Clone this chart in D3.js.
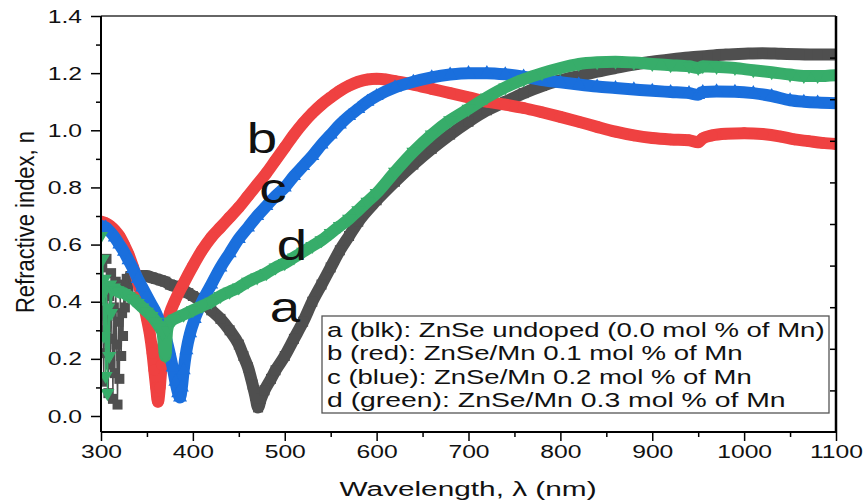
<!DOCTYPE html>
<html>
<head>
<meta charset="utf-8">
<script src="https://cdn.jsdelivr.net/npm/d3@7"></script>
<style>
  body { margin: 0; background: #fff; }
  svg { display: block; font-family: "Liberation Sans", Arial, sans-serif; }
</style>
</head>
<body>
<div id="chart"></div>
<script>
// refractive index n vs wavelength (nm)
const aWl = [300,301,302,303,304,305,306,307,308,309,310,311,312,313,314,315,316,317,318,319,320,321,322,323,324,325,326,328,330,332,
  335,340,345,350,355,360,365,370,375,380,385,390,395,400,410,420,430,440,450,455,460,465,468,471,474,478,485,490,500,510,520,530,540,550,560,570,580,
  600,620,640,660,680,700,720,740,760,780,800,820,840,860,880,900,920,940,960,980,1000,1020,1040,1060,1080,1100];
const aN = [0.40,0.52,0.30,0.12,0.45,0.22,0.55,0.35,0.08,0.42,0.18,0.50,0.27,0.06,0.38,0.15,0.47,0.25,0.04,0.33,0.13,0.44,0.21,0.36,0.28,0.46,0.38,0.48,0.45,0.49,
  0.48,0.49,0.49,0.49,0.485,0.48,0.475,0.47,0.46,0.455,0.45,0.44,0.43,0.42,0.40,0.37,0.34,0.30,0.25,0.21,0.17,0.11,0.07,0.03,0.06,0.09,0.13,0.16,0.21,0.27,0.33,0.40,0.46,0.52,0.58,0.63,0.68,
  0.755,0.82,0.88,0.935,0.985,1.03,1.07,1.10,1.13,1.155,1.175,1.19,1.205,1.218,1.23,1.24,1.248,1.255,1.26,1.265,1.268,1.27,1.268,1.266,1.265,1.265];

const bWl = [300,305,310,315,320,325,330,335,340,345,350,353,356,358,360,362,364,366,368,371,375,380,390,400,410,420,430,440,450,460,470,480,490,500,
  510,520,530,540,550,560,570,580,590,600,610,620,640,660,680,700,720,740,760,780,800,820,840,860,880,900,920,940,950,955,965,980,1000,1020,1040,1055,1070,1085,1100];
const bN = [0.68,0.675,0.665,0.65,0.63,0.60,0.565,0.52,0.47,0.41,0.34,0.29,0.22,0.16,0.10,0.05,0.10,0.18,0.25,0.31,0.36,0.40,0.465,0.525,0.58,0.625,0.66,0.695,0.73,0.77,0.81,0.85,0.895,0.94,
  0.985,1.025,1.06,1.09,1.115,1.138,1.156,1.17,1.178,1.18,1.178,1.172,1.16,1.145,1.13,1.115,1.10,1.09,1.078,1.063,1.047,1.03,1.012,0.995,0.982,0.973,0.968,0.965,0.958,0.972,0.982,0.988,0.99,0.987,0.978,0.968,0.962,0.956,0.952];

const cWl = [300,305,310,315,320,325,330,335,340,345,350,355,360,365,370,374,378,381,384,386,388,390,393,397,402,410,420,430,440,450,460,470,480,490,500,
  510,520,530,540,550,560,570,580,590,600,620,640,660,680,700,720,740,760,780,800,820,840,860,880,900,920,940,950,955,970,990,1010,1030,1050,1065,1080,1100];
const cN = [0.665,0.66,0.645,0.625,0.60,0.575,0.545,0.515,0.48,0.45,0.42,0.39,0.36,0.32,0.28,0.23,0.17,0.12,0.08,0.065,0.10,0.16,0.23,0.29,0.34,0.40,0.46,0.52,0.57,0.62,0.66,0.70,0.735,0.77,0.80,
  0.84,0.875,0.91,0.95,0.985,1.02,1.05,1.075,1.10,1.12,1.15,1.17,1.185,1.195,1.20,1.20,1.196,1.188,1.176,1.168,1.16,1.153,1.148,1.143,1.138,1.134,1.13,1.124,1.134,1.136,1.135,1.13,1.12,1.105,1.10,1.097,1.095];

const dWl = [300,301,302,303,304,305,306,307,308,309,310,311,312,314,316,
  318,320,325,330,335,340,345,350,355,360,364,367,370,372,375,380,390,400,410,420,430,440,450,460,470,480,490,500,510,520,530,540,550,560,570,580,590,
  600,620,640,660,680,700,720,740,760,780,800,820,840,860,880,900,920,940,950,955,970,990,1010,1030,1050,1065,1080,1100];
const dN = [0.63,0.42,0.55,0.28,0.48,0.14,0.45,0.08,0.38,0.21,0.46,0.36,0.44,0.45,0.44,
  0.44,0.435,0.43,0.42,0.41,0.395,0.38,0.365,0.35,0.33,0.31,0.29,0.21,0.30,0.33,0.34,0.355,0.37,0.385,0.40,0.42,0.435,0.45,0.47,0.485,0.50,0.52,0.535,0.555,0.575,0.595,0.615,0.64,0.665,0.69,0.72,0.75,
  0.78,0.855,0.925,0.985,1.035,1.075,1.115,1.15,1.178,1.20,1.218,1.232,1.238,1.24,1.237,1.232,1.228,1.224,1.218,1.224,1.222,1.218,1.21,1.203,1.195,1.19,1.19,1.193];

const xTicks = [300,400,500,600,700,800,900,1000,1100];
const yTicks = [0,0.2,0.4,0.6,0.8,1.0,1.2,1.4];
const legendLines = [
  'a (blk): ZnSe undoped (0.0 mol % of Mn)',
  'b (red): ZnSe/Mn 0.1 mol % of Mn',
  'c (blue): ZnSe/Mn 0.2 mol % of Mn',
  'd (green): ZnSe/Mn 0.3 mol % of Mn'
];

const width = 866, height = 503;
const plotLeft = 101, plotRight = 836, plotTop = 16, plotBottom = 432;
const stretch = 1.3;   // lettering in the figure is wider than plain Arial

const x = d3.scaleLinear().domain([300, 1100]).range([plotLeft, plotRight]);
const y = d3.scaleLinear().domain([0, 1.4]).range([416, plotTop]);

const svg = d3.select('#chart').append('svg').attr('width', width).attr('height', height);

svg.append('clipPath').attr('id', 'plotClip').append('rect')
  .attr('x', plotLeft).attr('y', plotTop).attr('width', plotRight - plotLeft).attr('height', plotBottom - plotTop);

const plot = svg.append('g').attr('clip-path', 'url(#plotClip)');

const thinLine = d3.line().x(d => x(d[0])).y(d => y(d[1]));
const bandLine = d3.line().x(d => x(d[0])).y(d => y(d[1])).curve(d3.curveMonotoneX);

function drawSeries(wl, n, color, symbol, size, rot, bandFrom) {
  let pts = wl.map((w, i) => [w, n[i]]);
  let g = plot.append('g');
  g.append('path').datum(pts.filter(p => p[0] <= bandFrom))
    .attr('d', thinLine).attr('fill', 'none').attr('stroke', color).attr('stroke-width', 1.3);
  g.append('path').datum(pts.filter(p => p[0] >= bandFrom))
    .attr('d', bandLine).attr('fill', 'none').attr('stroke', color)
    .attr('stroke-width', 12).attr('stroke-linejoin', 'round').attr('stroke-linecap', 'round');
  g.selectAll('path.sym').data(pts).enter().append('path')
    .attr('class', 'sym')
    .attr('d', d3.symbol().type(symbol).size(size))
    .attr('transform', d => `translate(${x(d[0])},${y(d[1])}) rotate(${rot})`)
    .attr('fill', color);
}

drawSeries(aWl, aN, '#4f4f4f', d3.symbolSquare, 100, 0, 332);
drawSeries(bWl, bN, '#ef4141', d3.symbolCircle, 105, 0, 300);
drawSeries(cWl, cN, '#1a6fdd', d3.symbolTriangle, 85, 0, 300);
drawSeries(dWl, dN, '#37ad6a', d3.symbolTriangle, 85, 180, 316);

// frame
svg.append('line').attr('x1', plotLeft).attr('x2', plotRight).attr('y1', plotTop).attr('y2', plotTop)
  .attr('stroke', '#333').attr('stroke-width', 1.5);
svg.append('line').attr('x1', plotRight).attr('x2', plotRight).attr('y1', plotTop).attr('y2', plotBottom)
  .attr('stroke', '#000').attr('stroke-width', 2.5);

// left axis
let yAxis = svg.append('g').attr('transform', `translate(${plotLeft},0)`)
  .call(d3.axisLeft(y).tickValues(yTicks).tickSize(10).tickFormat(d3.format('.1f')));
yAxis.append('g').call(d3.axisLeft(y).tickValues(d3.range(0.1, 1.4, 0.2)).tickSize(5).tickFormat(''))
  .select('.domain').remove();
yAxis.select('.domain').attr('d', `M0,${plotTop}V${plotBottom}`);

// bottom axis
let xAxis = svg.append('g').attr('transform', `translate(0,${plotBottom})`)
  .call(d3.axisBottom(x).tickValues(xTicks).tickSize(9).tickPadding(4).tickFormat(d3.format('d')));
xAxis.append('g').call(d3.axisBottom(x).tickValues(d3.range(350, 1100, 100)).tickSize(5).tickFormat(''))
  .select('.domain').remove();
xAxis.select('.domain').attr('d', `M${plotLeft},0H${plotRight}`);

// right side: inner ticks of the second layer
let rScale = d3.scaleLinear().domain([0, 10]).range([plotBottom, plotTop]);
svg.append('g').attr('transform', `translate(${plotRight},0)`)
  .call(d3.axisLeft(rScale).tickValues(d3.range(1, 10)).tickSize(6).tickFormat(''))
  .select('.domain').remove();

svg.selectAll('.domain').attr('stroke', '#000').attr('stroke-width', 2);
svg.selectAll('.tick line').attr('stroke', '#000').attr('stroke-width', 1.5);
svg.selectAll('.tick text').attr('font-size', 19).attr('fill', '#111')
  .attr('font-family', '"Liberation Sans", Arial, sans-serif');
yAxis.selectAll('.tick text').attr('x', -19 / stretch).attr('transform', `scale(${stretch},1)`);
xAxis.selectAll('.tick text').attr('transform', `scale(${stretch},1)`);

// axis titles
function stretchedText(parent, str, px, py, size, sx, anchor, rot) {
  return parent.append('text').text(str)
    .attr('text-anchor', anchor || 'start')
    .attr('font-size', size).attr('fill', '#111')
    .attr('transform', `translate(${px},${py}) scale(${sx},1)` + (rot ? ` rotate(${rot})` : ''));
}
stretchedText(svg, 'Wavelength, \u03bb (nm)', 468, 496, 21, 1.42, 'middle');
stretchedText(svg, 'Refractive index, n', 34, 222, 22, 1.2, 'middle', -90);

// curve labels
stretchedText(svg, 'b', 262, 153, 42, stretch, 'middle');
stretchedText(svg, 'c', 273, 203, 42, stretch, 'middle');
stretchedText(svg, 'd', 292, 260, 42, stretch, 'middle');
stretchedText(svg, 'a', 285, 322, 42, stretch, 'middle');

// legend
let legend = svg.append('g');
legend.append('rect').attr('x', 322).attr('y', 316).attr('width', 507).attr('height', 97)
  .attr('fill', '#fff').attr('stroke', '#555').attr('stroke-width', 1.3);
let legendWidths = [498, 416, 425, 459];
legendLines.forEach((s, i) => {
  let t = legend.append('text').text(s).attr('font-size', 19.5).attr('fill', '#111');
  let natural = t.node().getComputedTextLength();
  t.attr('transform', `translate(327,${337 + i * 23.3}) scale(${legendWidths[i] / natural},1)`);
});
</script>
</body>
</html>
